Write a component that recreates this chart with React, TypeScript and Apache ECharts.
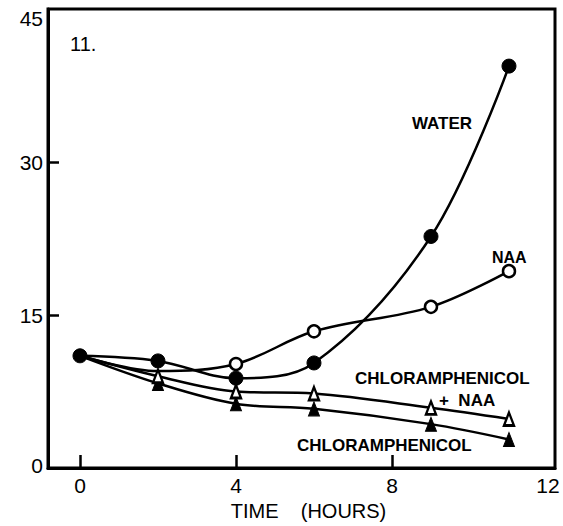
import React, { useEffect, useRef } from "react";
import * as echarts from "echarts";

const hours = [0, 2, 4, 6, 9, 11];
const water = [11.0, 10.5, 8.8, 10.3, 22.7, 39.4];
const naaHours = [0, 2, 4, 6, 9, 11];
const naa = [11.0, 9.5, 10.2, 13.4, 15.8, 19.3];
const naaHidden = [0, 1];
const chlorNaa = [11.0, 9.0, 7.5, 7.3, 5.9, 4.8];
const chlor = [11.0, 8.3, 6.3, 5.8, 4.3, 2.8];
const xTicks = [0, 4, 8];
const xLabels = [0, 4, 8, 12];
const yTicks = [15, 30];

const FONT = "Liberation Sans, Arial, sans-serif";

function pts(xs: number[], ys: number[], hidden: number[]) {
  return xs.map((x, i) =>
    hidden.indexOf(i) >= 0 ? { value: [x, ys[i]], symbol: "none" } : { value: [x, ys[i]] }
  );
}

export default function App() {
  const ref = useRef<HTMLDivElement>(null);
  useEffect(() => {
    if (!ref.current) return;
    const chart = echarts.init(ref.current, null, { renderer: "svg" });
    const lineStyle = { color: "#000", width: 2.5 };
    chart.setOption({
      animation: false,
      backgroundColor: "#fff",
      grid: {
        left: 48,
        top: 9,
        right: 8,
        bottom: 55,
        show: true,
        borderColor: "#000",
        borderWidth: 3,
      },
      xAxis: {
        type: "value",
        min: -0.82,
        max: 12.18,
        splitLine: { show: false },
        axisLine: { onZero: false, lineStyle: { color: "#000", width: 3 } },
        axisTick: {
          inside: true,
          length: 13,
          customValues: xTicks,
          lineStyle: { color: "#000", width: 2.5 },
        },
        axisLabel: {
          customValues: xLabels,
          color: "#000",
          fontSize: 21,
          fontFamily: FONT,
          margin: 7,
        },
        name: "TIME    (HOURS)",
        nameLocation: "middle",
        nameGap: 33,
        nameTextStyle: {
          color: "#000",
          fontSize: 20,
          fontFamily: FONT,
          padding: [0, 0, 0, 14],
        },
      },
      yAxis: {
        type: "value",
        min: 0,
        max: 45,
        interval: 15,
        splitLine: { show: false },
        axisLine: { onZero: false, lineStyle: { color: "#000", width: 3 } },
        axisTick: {
          inside: true,
          length: 11,
          customValues: yTicks,
          lineStyle: { color: "#000", width: 2.5 },
        },
        axisLabel: {
          color: "#000",
          fontSize: 21,
          fontFamily: FONT,
          margin: 5,
          formatter: (v: number) => (v === 45 ? "{t|45}" : v === 0 ? "{z|0}" : "{n|" + v + "}"),
          rich: {
            t: { fontSize: 21, fontFamily: FONT, color: "#000", padding: [18, 0, 0, 0] },
            z: { fontSize: 21, fontFamily: FONT, color: "#000", padding: [0, 0, 6, 0] },
            n: { fontSize: 21, fontFamily: FONT, color: "#000" },
          },
        },
      },
      series: [
        {
          type: "line",
          name: "CHLORAMPHENICOL",
          data: pts(hours, chlor, [0]),
          smooth: 0.35,
          symbol: "triangle",
          symbolSize: [11, 14],
          lineStyle,
          itemStyle: { color: "#000", borderColor: "#000", borderWidth: 1 },
          z: 2,
        },
        {
          type: "line",
          name: "CHLORAMPHENICOL + NAA",
          data: pts(hours, chlorNaa, [0]),
          smooth: 0.35,
          symbol: "triangle",
          symbolSize: [10, 13],
          lineStyle,
          itemStyle: { color: "#fff", borderColor: "#000", borderWidth: 2.5 },
          z: 3,
        },
        {
          type: "line",
          name: "NAA",
          data: pts(naaHours, naa, naaHidden),
          smooth: 0.35,
          symbol: "circle",
          symbolSize: 12,
          lineStyle,
          itemStyle: { color: "#fff", borderColor: "#000", borderWidth: 2.5 },
          z: 4,
        },
        {
          type: "line",
          name: "WATER",
          data: pts(hours, water, []),
          smooth: 0.35,
          symbol: "circle",
          symbolSize: 14,
          lineStyle,
          itemStyle: { color: "#000", borderColor: "#000", borderWidth: 1 },
          z: 5,
        },
      ],
      graphic: [
        {
          type: "text",
          x: 70,
          y: 44,
          style: { text: "11.", font: "20px " + FONT, fill: "#000", textVerticalAlign: "middle" },
        },
        {
          type: "text",
          x: 412,
          y: 123,
          style: { text: "WATER", font: "bold 17px " + FONT, fill: "#000", textVerticalAlign: "middle" },
        },
        {
          type: "text",
          x: 492,
          y: 257,
          style: { text: "NAA", font: "bold 16px " + FONT, fill: "#000", textVerticalAlign: "middle" },
        },
        {
          type: "text",
          x: 355,
          y: 378,
          style: { text: "CHLORAMPHENICOL", font: "bold 17px " + FONT, fill: "#000", textVerticalAlign: "middle" },
        },
        {
          type: "text",
          x: 439,
          y: 400,
          style: { text: "+  NAA", font: "bold 17px " + FONT, fill: "#000", textVerticalAlign: "middle" },
        },
        {
          type: "text",
          x: 297,
          y: 445,
          style: { text: "CHLORAMPHENICOL", font: "bold 17px " + FONT, fill: "#000", textVerticalAlign: "middle" },
        },
      ],
    });
    return () => chart.dispose();
  }, []);
  return (
    <div
      ref={ref}
      style={{ position: "absolute", left: 0, top: 0, width: 563, height: 526 }}
    />
  );
}
